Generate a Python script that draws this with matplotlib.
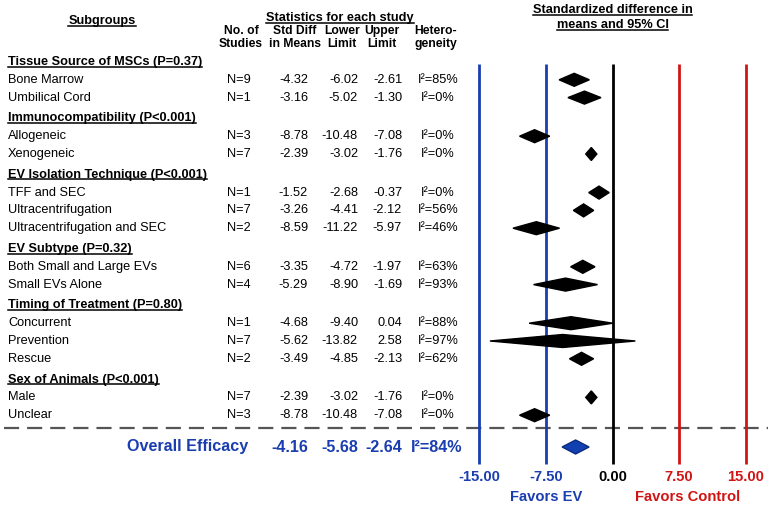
import matplotlib.pyplot as plt
from matplotlib.lines import Line2D
import numpy as np

plt.rcParams["font.family"] = ["Liberation Sans", "DejaVu Sans"]

# subgroup data
groups = [
    "Tissue Source of MSCs (P=0.37)",
    "Immunocompatibility (P<0.001)",
    "EV Isolation Technique (P<0.001)",
    "EV Subtype (P=0.32)",
    "Timing of Treatment (P=0.80)",
    "Sex of Animals (P<0.001)",
]
group_items = [
    ["Bone Marrow", "Umbilical Cord"],
    ["Allogeneic", "Xenogeneic"],
    ["TFF and SEC", "Ultracentrifugation", "Ultracentrifugation and SEC"],
    ["Both Small and Large EVs", "Small EVs Alone"],
    ["Concurrent", "Prevention", "Rescue"],
    ["Male", "Unclear"],
]
n_studies = [9, 1, 3, 7, 1, 7, 2, 6, 4, 1, 7, 2, 7, 3]
smd = [-4.32, -3.16, -8.78, -2.39, -1.52, -3.26, -8.59, -3.35, -5.29,
       -4.68, -5.62, -3.49, -2.39, -8.78]
lower = [-6.02, -5.02, -10.48, -3.02, -2.68, -4.41, -11.22, -4.72, -8.90,
         -9.40, -13.82, -4.85, -3.02, -10.48]
upper = [-2.61, -1.30, -7.08, -1.76, -0.37, -2.12, -5.97, -1.97, -1.69,
         0.04, 2.58, -2.13, -1.76, -7.08]
i2 = [85, 0, 0, 0, 0, 56, 46, 63, 93, 88, 97, 62, 0, 0]

overall = (-4.16, -5.68, -2.64, 84)
ticks = [-15.0, -7.5, 0.0, 7.5, 15.0]

BLUE = "#1a3db0"
RED = "#d01515"
FS = 9.2

W, H = 768, 507
fig = plt.figure(figsize=(W / 100, H / 100), dpi=100)

# table axes in pixel units, forest axes in effect units; both share the row positions
tab = fig.add_axes([0, 0, 1, 1])
tab.set_xlim(0, W)
tab.set_ylim(H, 0)
tab.axis("off")

zero_px, px_per_unit = 612.5, 8.87
ax = fig.add_axes([0, 0, 1, 1])
ax.set_xlim(-zero_px / px_per_unit, (W - zero_px) / px_per_unit)
ax.set_ylim(H, 0)
ax.axis("off")
ax.patch.set_alpha(0)

underline = []

# headers
t = tab.text(102, 21, "Subgroups", ha="center", va="center", fontsize=FS, weight="bold")
underline.append(t)
t = tab.text(340, 18, "Statistics for each study", ha="center", va="center",
             fontsize=FS, weight="bold")
underline.append(t)
col_heads = [(241, "No. of\nStudies"), (295, "Std Diff\nin Means"),
             (342, "Lower\nLimit"), (382, "Upper\nLimit"), (436, "Hetero-\ngeneity")]
for x, s in col_heads:
    tab.text(x, 37.5, s, ha="center", va="center", fontsize=8.7, weight="bold",
             linespacing=1.1)
for y, s in [(10, "Standardized difference in"), (25, "means and 95% CI")]:
    t = ax.text(0, y, s, ha="center", va="center", fontsize=FS, weight="bold")
    underline.append(t)

# row layout
step, gap = 17.8, 20.8
y = 62.0
k = 0
row_y = []
for g, items in zip(groups, group_items):
    t = tab.text(8, y, g, ha="left", va="center", fontsize=FS, weight="bold")
    underline.append(t)
    for name in items:
        y += step
        row_y.append(y)
        tab.text(8, y, name, ha="left", va="center", fontsize=FS)
        tab.text(239, y, f"N={n_studies[k]}", ha="center", va="center", fontsize=FS)
        tab.text(308, y, f"{smd[k]:.2f}", ha="right", va="center", fontsize=FS)
        tab.text(358, y, f"{lower[k]:.2f}", ha="right", va="center", fontsize=FS)
        tab.text(402, y, f"{upper[k]:.2f}", ha="right", va="center", fontsize=FS)
        tab.text(438, y, f"I²={i2[k]}%", ha="center", va="center", fontsize=FS)
        k += 1
    y += gap

# reference lines
line_cols = [BLUE, BLUE, "black", RED, RED]
ax.vlines(ticks, 64, 464, colors=line_cols, lw=2, zorder=1)

# subgroup diamonds
dh = 6.5
for yy, lo, m, hi in zip(row_y, lower, smd, upper):
    ax.fill([lo, m, hi, m], [yy, yy - dh, yy, yy + dh], color="black", zorder=3)

# dashed separator
tab.axhline(428, xmin=4 / W, xmax=1, color="#555555", lw=1.6, ls=(0, (6.8, 3.6)))

# overall row
oy = 447
OFS = 11.6
tab.text(188, oy, "Overall Efficacy", ha="center", va="center", fontsize=OFS,
         weight="bold", color=BLUE)
tab.text(308, oy, f"{overall[0]:.2f}", ha="right", va="center", fontsize=OFS,
         weight="bold", color=BLUE)
tab.text(358, oy, f"{overall[1]:.2f}", ha="right", va="center", fontsize=OFS,
         weight="bold", color=BLUE)
tab.text(402, oy, f"{overall[2]:.2f}", ha="right", va="center", fontsize=OFS,
         weight="bold", color=BLUE)
tab.text(437, oy, f"I²={overall[3]}%", ha="center", va="center", fontsize=OFS,
         weight="bold", color=BLUE)
m, lo, hi = overall[0], overall[1], overall[2]
ax.fill([lo, m, hi, m], [oy, oy - 7, oy, oy + 7], facecolor="#1240b0",
        edgecolor="#0a2a80", lw=1, zorder=3)

# tick labels and direction labels
for v, c in zip(ticks, line_cols):
    ax.text(v, 477, f"{v:.2f}", ha="center", va="center", fontsize=10.6,
            weight="bold", color=c)
ax.text(-7.5, 497, "Favors EV", ha="center", va="center", fontsize=10.6,
        weight="bold", color=BLUE)
ax.text(8.5, 497, "Favors Control", ha="center", va="center", fontsize=10.6,
        weight="bold", color=RED)

# underline the headers
fig.canvas.draw()
r = fig.canvas.get_renderer()
for t in underline:
    bb = t.get_window_extent(r)
    yl = (bb.y0 + 1.5) / H
    fig.add_artist(Line2D([bb.x0 / W, bb.x1 / W], [yl, yl], color="black", lw=1.1))

fig.savefig("out.png", dpi=100)
